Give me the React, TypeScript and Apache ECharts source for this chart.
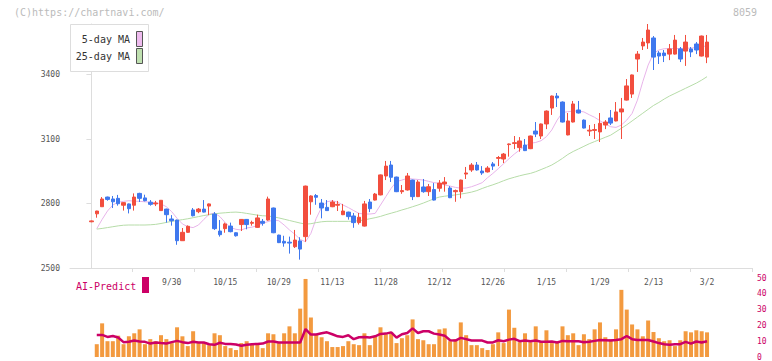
import React, { useEffect, useRef } from "react";
import * as echarts from "echarts";

const dates = [
  "9/5", "9/6", "9/9", "9/10", "9/11", "9/12", "9/13", "9/17", "9/18", "9/19",
  "9/20", "9/24", "9/25", "9/26", "9/27", "9/30", "10/1", "10/2", "10/3", "10/4",
  "10/7", "10/8", "10/9", "10/10", "10/11", "10/15", "10/16", "10/17", "10/18", "10/21",
  "10/22", "10/23", "10/24", "10/25", "10/28", "10/29", "10/30", "10/31", "11/1", "11/5",
  "11/6", "11/7", "11/8", "11/11", "11/12", "11/13", "11/15", "11/18", "11/19", "11/20",
  "11/21", "11/22", "11/25", "11/26", "11/27", "11/28", "11/29", "12/2", "12/3", "12/4",
  "12/5", "12/6", "12/9", "12/10", "12/11", "12/12", "12/13", "12/16", "12/17", "12/18",
  "12/19", "12/20", "12/23", "12/24", "12/25", "12/26", "12/27", "12/30", "1/6", "1/7",
  "1/8", "1/9", "1/10", "1/13", "1/14", "1/15", "1/16", "1/17", "1/20", "1/21",
  "1/22", "1/23", "1/24", "1/27", "1/28", "1/29", "1/30", "1/31", "2/3", "2/4",
  "2/5", "2/6", "2/7", "2/10", "2/12", "2/13", "2/17", "2/18", "2/19", "2/20",
  "2/21", "2/25", "2/26", "2/27", "2/28", "3/2",
];

const opens = [
  2715, 2752, 2785, 2830, 2821, 2824, 2792, 2798, 2792, 2847,
  2826, 2806, 2798, 2767, 2774, 2728, 2723, 2627, 2666, 2770,
  2762, 2774, 2788, 2751, 2672, 2683, 2695, 2664, 2702, 2726,
  2708, 2689, 2717, 2723, 2779, 2653, 2624, 2620, 2599, 2626,
  2646, 2808, 2837, 2802, 2782, 2785, 2792, 2748, 2760, 2742,
  2711, 2695, 2807, 2816, 2840, 2928, 2979, 2923, 2855, 2863,
  2909, 2832, 2877, 2855, 2865, 2871, 2891, 2872, 2855, 2855,
  2937, 2956, 2979, 2951, 2947, 2984, 3010, 3007, 3074, 3079,
  3060, 3072, 3055, 3137, 3114, 3170, 3244, 3300, 3272, 3119,
  3179, 3235, 3188, 3137, 3140, 3133, 3165, 3198, 3184, 3226,
  3281, 3309, 3472, 3533, 3547, 3570, 3500, 3500, 3495, 3495,
  3519, 3509, 3519, 3542, 3486, 3481,
];
const closes = [
  2719, 2765, 2821, 2819, 2808, 2799, 2804, 2776, 2830, 2824,
  2813, 2796, 2802, 2815, 2748, 2720, 2627, 2666, 2694, 2743,
  2774, 2760, 2798, 2683, 2655, 2705, 2669, 2650, 2726, 2702,
  2712, 2733, 2708, 2821, 2664, 2618, 2616, 2616, 2630, 2588,
  2881, 2835, 2829, 2779, 2767, 2807, 2796, 2765, 2739, 2711,
  2736, 2798, 2776, 2844, 2933, 2974, 2922, 2855, 2860, 2928,
  2832, 2900, 2855, 2878, 2816, 2895, 2900, 2827, 2860, 2909,
  2942, 2979, 2956, 2942, 2965, 2974, 3014, 3030, 3077, 3083,
  3091, 3046, 3114, 3123, 3170, 3230, 3300, 3291, 3179, 3184,
  3263, 3221, 3151, 3141, 3144, 3173, 3179, 3174, 3226, 3240,
  3347, 3398, 3495, 3551, 3607, 3481, 3486, 3488, 3519, 3560,
  3472, 3551, 3505, 3514, 3579, 3551,
];
const lows = [
  2713, 2734, 2785, 2813, 2779, 2790, 2767, 2754, 2767, 2807,
  2810, 2790, 2788, 2767, 2711, 2697, 2608, 2627, 2664, 2740,
  2755, 2758, 2746, 2677, 2646, 2664, 2666, 2646, 2672, 2680,
  2697, 2687, 2697, 2720, 2662, 2616, 2599, 2567, 2593, 2539,
  2622, 2748, 2794, 2731, 2765, 2783, 2765, 2746, 2725, 2687,
  2702, 2693, 2760, 2814, 2838, 2909, 2900, 2853, 2845, 2860,
  2816, 2830, 2850, 2835, 2814, 2855, 2855, 2825, 2808, 2824,
  2914, 2947, 2953, 2933, 2944, 2956, 2974, 2988, 3018, 3053,
  3041, 3044, 3053, 3109, 3100, 3146, 3212, 3249, 3177, 3117,
  3177, 3219, 3149, 3114, 3100, 3086, 3146, 3165, 3182, 3100,
  3279, 3291, 3412, 3514, 3519, 3421, 3449, 3458, 3467, 3493,
  3458, 3440, 3481, 3495, 3484, 3453,
];
const highs = [
  2721, 2766, 2830, 2832, 2835, 2840, 2806, 2800, 2847, 2850,
  2841, 2816, 2812, 2815, 2776, 2746, 2725, 2686, 2698, 2779,
  2779, 2816, 2800, 2760, 2723, 2711, 2711, 2666, 2728, 2728,
  2720, 2748, 2728, 2832, 2781, 2655, 2650, 2646, 2677, 2643,
  2883, 2838, 2844, 2821, 2816, 2816, 2812, 2798, 2762, 2756,
  2756, 2812, 2821, 2849, 2935, 2998, 2998, 2925, 2886, 2942,
  2911, 2909, 2914, 2891, 2895, 2909, 2923, 2881, 2865, 2911,
  2970, 2988, 2993, 2974, 2974, 2993, 3021, 3035, 3079, 3114,
  3109, 3100, 3116, 3179, 3172, 3233, 3302, 3314, 3275, 3221,
  3277, 3277, 3191, 3165, 3170, 3221, 3188, 3235, 3272, 3291,
  3379, 3400, 3509, 3570, 3635, 3579, 3509, 3514, 3542, 3584,
  3528, 3584, 3528, 3551, 3581, 3584,
];

const ma5 = [
  null, 2683, 2726, 2765, 2793, 2806, 2810, 2813, 2811, 2810,
  2808, 2806, 2804, 2798, 2785, 2762, 2731, 2705, 2692, 2688,
  2700, 2726, 2750, 2756, 2739, 2711, 2688, 2680, 2677, 2686,
  2690, 2697, 2708, 2716, 2723, 2720, 2700, 2677, 2657, 2633,
  2622, 2661, 2731, 2782, 2808, 2813, 2806, 2793, 2781, 2767,
  2754, 2751, 2751, 2754, 2793, 2832, 2871, 2902, 2909, 2917,
  2914, 2912, 2909, 2903, 2897, 2894, 2886, 2881, 2875, 2871,
  2872, 2878, 2887, 2897, 2920, 2940, 2962, 2985, 3008, 3030,
  3049, 3067, 3080, 3084, 3092, 3111, 3142, 3188, 3223, 3227,
  3230, 3230, 3226, 3213, 3201, 3185, 3170, 3157, 3154, 3165,
  3188, 3219, 3281, 3367, 3444, 3498, 3514, 3520, 3521, 3521,
  3521, 3522, 3523, 3526, 3530, 3533,
];
const ma25 = [
  null, 2681, 2684, 2688, 2692, 2696, 2699, 2700, 2700, 2700,
  2700, 2701, 2703, 2707, 2712, 2717, 2721, 2725, 2729, 2734,
  2739, 2744, 2748, 2752, 2755, 2757, 2759, 2760, 2758, 2754,
  2750, 2746, 2743, 2742, 2738, 2733, 2727, 2721, 2715, 2709,
  2704, 2706, 2711, 2715, 2717, 2717, 2717, 2717, 2717, 2718,
  2720, 2724, 2729, 2734, 2740, 2748, 2755, 2762, 2770, 2777,
  2785, 2793, 2802, 2812, 2822, 2830, 2834, 2837, 2840, 2844,
  2848, 2853, 2860, 2870, 2879, 2887, 2896, 2906, 2915, 2922,
  2929, 2935, 2940, 2948, 2958, 2968, 2979, 2994, 3010, 3028,
  3042, 3054, 3066, 3078, 3088, 3098, 3108, 3118, 3134, 3150,
  3166, 3184, 3202, 3220, 3238, 3256, 3270, 3286, 3300, 3312,
  3324, 3336, 3348, 3360, 3374, 3390,
];

const volume = [
  null, 8.1, 21.3, 10, 10, 13.5, 8.1, 13.1, 15, 17.5,
  8.1, 11.3, 10, 13.8, 11.3, 8.8, 18.8, 13.1, 6.9, 16.3,
  8.8, 8.8, 7.5, 15, 13.8, 6.9, 5.6, 4.4, 8.8, 10,
  8.1, 8.1, 5.6, 15, 14.4, 8.8, 15, 19.4, 15, 30.6,
  49.4, 25, 14.4, 12.5, 10, 6.3, 6.3, 6.9, 10, 8.1,
  7.5, 15, 7.5, 13.1, 18.8, 14.4, 15.6, 8.8, 11.9, 13.8,
  23.8, 11.3, 10.6, 8.1, 8.1, 17.5, 18.1, 10, 11.3, 21.9,
  13.8, 7.5, 7.5, 5.6, 4.4, 8.1, 15.6, 8.8, 30, 18.5,
  9.4, 15, 9.4, 19.4, 9.4, 16.9, 8.8, 9.4, 19.4, 13.8,
  15, 7.5, 14.4, 11.3, 17.5, 21.9, 12.5, 11.3, 17.5, 42.5,
  30, 20.6, 17.5, 13.1, 23.1, 15.8, 11.9, 10, 10.6, 6.9,
  10.6, 16.3, 15.6, 16.9, 16.3, 15.6,
];
const aiPredict = [
  null, 14, 14, 12.7, 13.3, 12.3, 9.4, 9.6, 10.4, 9.8,
  9.6, 8.5, 9.2, 8.8, 8.5, 9.4, 10.2, 9.4, 8.8, 9.6,
  9.2, 9.2, 8.1, 7.7, 9.0, 8.3, 8.3, 7.9, 7.1, 7.7,
  8.1, 8.3, 8.5, 9.8, 9.8, 9.2, 9.2, 9.2, 9.2, 9.2,
  17.7, 14.2, 14.2, 15, 15.6, 14.4, 13.1, 12.7, 13.8, 11.3,
  12.5, 12.7, 12.3, 13.1, 14.6, 14.8, 15.6, 12.3, 14.4, 15.2,
  18.1, 15.2, 16.3, 16.3, 14.8, 14.2, 13.5, 10.6, 10.4, 12.1,
  11.3, 10.4, 10.4, 10.4, 9.2, 9.2, 10.6, 10, 11, 11.5,
  10, 10.4, 10, 10.4, 9.6, 9.6, 9.8, 9.2, 10.2, 10,
  10, 10, 9.4, 9.6, 10.2, 10.8, 10.6, 10.4, 10.8, 11.3,
  13.3, 11.3, 10.8, 10.8, 10.8, 9.8, 8.8, 8.1, 7.7, 8.1,
  8.1, 9.6, 8.5, 9.8, 9.2, 10,
];

const priceTicks = [2500, 2800, 3100, 3400];
const predictTicks = [0, 10, 20, 30, 40, 50];
const firstLabelIndex = 15;
const labelStep = 10;

const MONO = '"DejaVu Sans Mono", monospace';

export default function App() {
  const ref = useRef<HTMLDivElement>(null);

  useEffect(() => {
    if (!ref.current) return;
    const chart = echarts.init(ref.current, null, { renderer: "svg" });
    const idx = dates.map((_, i) => i);
    const xMin = -4;
    const xMax = 123.4;
    const tickVals = Array.from({ length: 11 }, (_, k) => xMin + ((xMax - xMin) * (k + 1)) / 11);
    const labelIdx: number[] = [];
    for (let i = firstLabelIndex; i < dates.length; i += labelStep) labelIdx.push(i);

    const candle = idx.map((i) => [i, opens[i], closes[i], lows[i], highs[i]]);
    const up = "#f24e3e";
    const down = "#3f78ee";

    chart.setOption({
      animation: false,
      grid: [
        { left: 70, top: 24, width: 682, height: 244 },
        { left: 70, top: 278, width: 682, height: 80 },
      ],
      xAxis: [
        {
          type: "value",
          gridIndex: 0,
          min: xMin,
          max: xMax,
          axisLine: { show: true, onZero: false, lineStyle: { color: "#dddddd", width: 1 } },
          axisTick: { show: true, customValues: tickVals, length: 4, lineStyle: { color: "#dddddd" } },
          axisLabel: {
            customValues: labelIdx,
            formatter: (v: number) => dates[Math.round(v)] ?? "",
            fontSize: 8,
            fontFamily: MONO,
            color: "#555555",
            margin: 10,
          },
          splitLine: { show: false },
        },
        {
          type: "value",
          gridIndex: 1,
          min: xMin,
          max: xMax,
          show: false,
          splitLine: { show: false },
        },
      ],
      yAxis: [
        {
          type: "value",
          gridIndex: 0,
          min: 2500,
          max: "dataMax",
          position: "left",
          axisLine: { show: true, lineStyle: { color: "#dddddd" } },
          axisTick: { show: true, customValues: priceTicks, length: 5, lineStyle: { color: "#dddddd" } },
          axisLabel: {
            customValues: priceTicks,
            formatter: (v: number) => String(Math.round(v)),
            fontSize: 8,
            fontFamily: MONO,
            color: "#555555",
            margin: 10,
          },
          splitLine: { show: false },
        },
        {
          type: "value",
          gridIndex: 1,
          min: 0,
          max: 50,
          interval: 10,
          position: "right",
          axisLine: { show: false },
          axisTick: { show: false },
          axisLabel: {
            customValues: predictTicks,
            formatter: (v: number) => String(Math.round(v)),
            fontSize: 8,
            fontFamily: MONO,
            color: "#cc0066",
            margin: 5,
          },
          splitLine: { show: false },
        },
      ],
      series: [
        {
          type: "line",
          name: "5-day MA",
          xAxisIndex: 0,
          yAxisIndex: 0,
          data: idx.map((i) => [i, ma5[i]]),
          symbol: "none",
          lineStyle: { color: "#e8b4ea", width: 1 },
          z: 1,
        },
        {
          type: "line",
          name: "25-day MA",
          xAxisIndex: 0,
          yAxisIndex: 0,
          data: idx.map((i) => [i, ma25[i]]),
          symbol: "none",
          lineStyle: { color: "#b6dca8", width: 1 },
          z: 1,
        },
        {
          type: "candlestick",
          xAxisIndex: 0,
          yAxisIndex: 0,
          data: candle,
          encode: { x: 0, y: [1, 2, 3, 4] },
          barWidth: 4,
          itemStyle: {
            color: up,
            color0: down,
            borderColor: up,
            borderColor0: down,
            borderWidth: 1,
          },
          z: 3,
        },
        {
          type: "bar",
          xAxisIndex: 1,
          yAxisIndex: 1,
          data: idx.map((i) => [i, volume[i]]),
          barWidth: 4,
          itemStyle: { color: "#f39a3f" },
          z: 2,
        },
        {
          type: "line",
          xAxisIndex: 1,
          yAxisIndex: 1,
          data: idx.map((i) => [i, aiPredict[i]]),
          symbol: "none",
          lineStyle: { color: "#cc0066", width: 2.5 },
          z: 3,
        },
      ],
      graphic: [
        {
          type: "text",
          x: 14,
          y: 12.5,
          style: {
            text: "(C)https://chartnavi.com/",
            font: `10px ${MONO}`,
            fill: "#bbbbbb",
            textAlign: "left",
            textVerticalAlign: "middle",
            align: "left",
            verticalAlign: "middle",
          },
        },
        {
          type: "text",
          x: 757,
          y: 12,
          style: {
            text: "8059",
            font: `10px ${MONO}`,
            fill: "#bbbbbb",
            textAlign: "right",
            textVerticalAlign: "middle",
            align: "right",
            verticalAlign: "middle",
          },
        },
        {
          type: "rect",
          z: 100,
          shape: { x: 70.5, y: 24.5, width: 78, height: 47 },
          style: { fill: "#ffffff", stroke: "#dddddd", lineWidth: 1 },
        },
        {
          type: "text",
          z: 101,
          x: 130,
          y: 39,
          style: {
            text: "5-day MA",
            font: `10px ${MONO}`,
            fill: "#333333",
            textAlign: "right",
            textVerticalAlign: "middle",
            align: "right",
            verticalAlign: "middle",
          },
        },
        {
          type: "text",
          z: 101,
          x: 130,
          y: 56.5,
          style: {
            text: "25-day MA",
            font: `10px ${MONO}`,
            fill: "#333333",
            textAlign: "right",
            textVerticalAlign: "middle",
            align: "right",
            verticalAlign: "middle",
          },
        },
        {
          type: "rect",
          z: 101,
          shape: { x: 136.5, y: 31.5, width: 6, height: 15 },
          style: { fill: "#eebbee", stroke: "#555555", lineWidth: 1 },
        },
        {
          type: "rect",
          z: 101,
          shape: { x: 136.5, y: 48.5, width: 6, height: 15 },
          style: { fill: "#bfe0b0", stroke: "#555555", lineWidth: 1 },
        },
        {
          type: "text",
          z: 101,
          x: 76,
          y: 286,
          style: {
            text: "AI-Predict",
            font: `10px ${MONO}`,
            fill: "#cc0066",
            textAlign: "left",
            textVerticalAlign: "middle",
            align: "left",
            verticalAlign: "middle",
          },
        },
        {
          type: "rect",
          z: 101,
          shape: { x: 142, y: 277, width: 7, height: 16 },
          style: { fill: "#cc0066" },
        },
      ],
    });

    return () => chart.dispose();
  }, []);

  return (
    <div
      ref={ref}
      style={{ position: "fixed", left: 0, top: 0, width: 772, height: 361, background: "#ffffff" }}
    />
  );
}
